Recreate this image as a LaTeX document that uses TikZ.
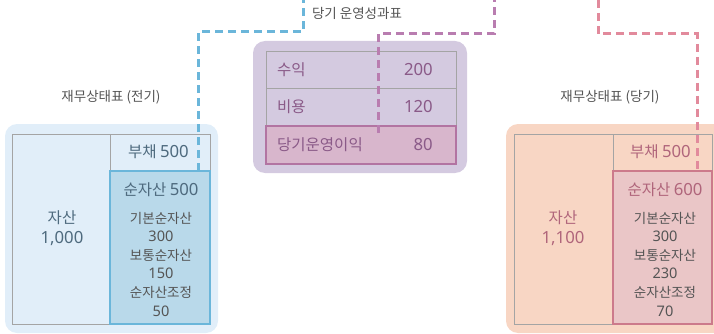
\documentclass[tikz,border=0pt]{standalone}
\usepackage{fontspec}
\setmainfont{Noto Sans CJK KR}
\newfontfamily\numf{Noto Sans}[Scale=1.08]
\definecolor{lbg}{HTML}{E1EEF9}
\definecolor{lhl}{HTML}{B9D9EA}
\definecolor{lstroke}{HTML}{6BB6DA}
\definecolor{ltx}{HTML}{4E6A7E}
\definecolor{mbg}{HTML}{D4CAE0}
\definecolor{mhl}{HTML}{D8B6CC}
\definecolor{mstroke}{HTML}{B274A2}
\definecolor{mtx}{HTML}{8A5A88}
\definecolor{rbg}{HTML}{F8D6C4}
\definecolor{rhl}{HTML}{EAC6C7}
\definecolor{rstroke}{HTML}{CC7A8B}
\definecolor{rtx}{HTML}{B0657B}
\definecolor{gridc}{HTML}{A4A4A4}
\definecolor{listc}{HTML}{555555}
\definecolor{titlec}{HTML}{555555}
\definecolor{bluedash}{HTML}{6BB6DA}
\definecolor{purpdash}{HTML}{B97DB0}
\definecolor{pinkdash}{HTML}{E28A9C}
\begin{document}
\begin{tikzpicture}[x=1pt,y=-1pt,
  panel/.style={rounded corners=12pt},
  gridline/.style={draw=gridc,line width=1pt},
  hlbox/.style={line width=2.4pt},
  ttl/.style={font=\fontsize{13.5}{16}\selectfont,text=titlec,inner sep=0pt},
  cell/.style={font=\fontsize{15.5}{20}\selectfont,inner sep=0pt},
  listtext/.style={font=\fontsize{13.5}{18.6}\selectfont,text=listc,align=center,inner sep=0pt},
  dashline/.style={line width=3pt,dash pattern=on 8pt off 5pt}
]
\useasboundingbox (0,0) rectangle (714,334);

% ---------- left panel ----------
\fill[lbg,panel] (5,124) rectangle (218,333);
\fill[lhl] (110,171) rectangle (210,324);
\draw[gridline] (12,134) rectangle (210,324);
\draw[gridline] (110,134) -- (110,324);
\draw[draw=lstroke,hlbox] (110,171) rectangle (210,324);
\node[ttl] (ltitle) at (111,97) {재무상태표 (전기)};
\node[cell,text=ltx,anchor=east] (lliab) at (189,152) {부채 {\numf 500}};
\node[cell,text=ltx,align=center] (lasset) at (62,228) {자산\\{\numf 1,000}};
\node[cell,text=ltx] (lnet) at (161,190) {순자산 {\numf 500}};
\node[listtext] (llist) at (161,264) {기본순자산\\{\numf 300}\\보통순자산\\{\numf 150}\\순자산조정\\{\numf 50}};
\coordinate (lnettop) at (198,171);

% ---------- middle panel ----------
\fill[mbg,panel] (253,41) rectangle (467,173);
\fill[mhl] (266,126) rectangle (456,164);
\draw[gridline] (266,52) rectangle (456,164);
\draw[gridline] (266,89) -- (456,89);
\draw[gridline] (266,126) -- (456,126);
\draw[draw=mstroke,hlbox] (266,126) rectangle (456,164);
\node[ttl] (mtitle) at (357,13) {당기 운영성과표};
\node[cell,text=mtx,anchor=west] (rev) at (277,70) {수익};
\node[cell,text=mtx,anchor=east] (revv) at (433,70) {\numf 200};
\node[cell,text=mtx,anchor=west] (exp) at (277,107) {비용};
\node[cell,text=mtx,anchor=east] (expv) at (433,107) {\numf 120};
\node[cell,text=mtx,anchor=west] (inc) at (277,145) {당기운영이익};
\node[cell,text=mtx,anchor=east] (incv) at (433,145) {\numf 80};
\coordinate (incpt) at (378,133);

% ---------- right panel ----------
\fill[rbg,panel] (506,124) rectangle (726,333);
\fill[rhl] (613,171) rectangle (712,324);
\draw[gridline] (514,134) rectangle (712,324);
\draw[gridline] (613,134) -- (613,324);
\draw[draw=rstroke,hlbox] (613,171) rectangle (712,324);
\node[ttl] (rtitle) at (610,97) {재무상태표 (당기)};
\node[cell,text=rtx,anchor=east] (rliab) at (691,152) {부채 {\numf 500}};
\node[cell,text=rtx,align=center] (rasset) at (563,228) {자산\\{\numf 1,100}};
\node[cell,text=rtx] (rnet) at (665,190) {순자산 {\numf 600}};
\node[listtext] (rlist) at (665,264) {기본순자산\\{\numf 300}\\보통순자산\\{\numf 230}\\순자산조정\\{\numf 70}};
\coordinate (rnettop) at (697,171);

% ---------- dashed connectors ----------
\coordinate (btop) at (303,0);
\coordinate (ptop) at (494,0);
\coordinate (ktop) at (598,0);
\draw[dashline,bluedash] (lnettop) |- (303,32) -- (btop);
\draw[dashline,purpdash] (incpt) |- (494,34) -- (ptop);
\draw[dashline,pinkdash] (ktop) |- (697,34) -- (rnettop);
\end{tikzpicture}
\end{document}
